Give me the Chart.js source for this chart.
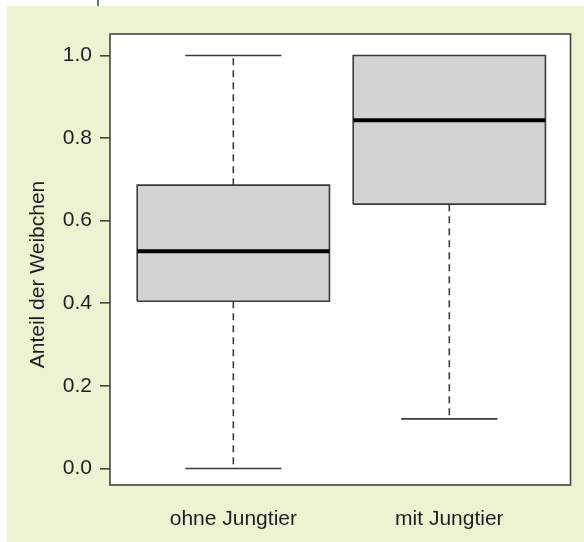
<!DOCTYPE html>
<html>
<head>
<meta charset="utf-8">
<script src="https://cdn.jsdelivr.net/npm/chart.js@4"></script>
<style>
    html, body { margin: 0; padding: 0; background: #fff; }
    body { width: 584px; height: 542px; position: relative; overflow: hidden; }
    #mark { position: absolute; left: 97px; top: 0; width: 2px; height: 6px; background: #3b8a70; }
    #wrap { position: absolute; left: 7px; top: 6px; width: 577px; height: 536px; background: #edf2d3; }
</style>
</head>
<body>
<div id="mark"></div>
<div id="wrap"><canvas id="boxChart" width="577" height="536"></canvas></div>
<script>
const groups = ['ohne Jungtier', 'mit Jungtier'];
const lowerWhisker = [0.0, 0.12];
const q1 = [0.405, 0.64];
const median = [0.526, 0.843];
const q3 = [0.686, 1.0];
const upperWhisker = [1.0, 1.0];
const yTicks = [0.0, 0.2, 0.4, 0.6, 0.8, 1.0];
const yTitle = 'Anteil der Weibchen';

document.addEventListener('DOMContentLoaded', function() {
    'use strict';

    const boxHalf = 0.445;
    const capHalf = 0.2225;
    const lineColor = '#3a3a3a';
    const textColor = '#1f1f1f';
    const fontFamily = "'Liberation Sans', Arial, sans-serif";
    const font = { family: fontFamily, size: 21 };

    function line(points, extra) {
        return Object.assign({
            type: 'scatter',
            data: points,
            showLine: true,
            pointRadius: 0,
            borderColor: lineColor,
            borderWidth: 1.6,
            fill: false
        }, extra);
    }

    const datasets = [];
    groups.forEach(function(name, i) {
        const c = i + 1;
        // box
        datasets.push(line([
            { x: c - boxHalf, y: q1[i] }, { x: c - boxHalf, y: q3[i] },
            { x: c + boxHalf, y: q3[i] }, { x: c + boxHalf, y: q1[i] },
            { x: c - boxHalf, y: q1[i] }
        ], { fill: 'shape', backgroundColor: '#d3d3d3', borderJoinStyle: 'miter', order: 2 }));
        // whiskers
        if (upperWhisker[i] > q3[i]) {
            datasets.push(line([{ x: c, y: q3[i] }, { x: c, y: upperWhisker[i] }], { borderDash: [7, 5], order: 3 }));
            datasets.push(line([{ x: c - capHalf, y: upperWhisker[i] }, { x: c + capHalf, y: upperWhisker[i] }], { order: 3 }));
        }
        if (lowerWhisker[i] < q1[i]) {
            datasets.push(line([{ x: c, y: q1[i] }, { x: c, y: lowerWhisker[i] }], { borderDash: [7, 5], order: 3 }));
            datasets.push(line([{ x: c - capHalf, y: lowerWhisker[i] }, { x: c + capHalf, y: lowerWhisker[i] }], { order: 3 }));
        }
        // median
        datasets.push(line([{ x: c - boxHalf, y: median[i] }, { x: c + boxHalf, y: median[i] }],
            { borderColor: '#000', borderWidth: 4, order: 0 }));
    });

    // white plot panel, closed frame and the y title (sits a bit below the panel centre)
    const frame = {
        id: 'frame',
        beforeDraw(chart) {
            const a = chart.chartArea;
            chart.ctx.save();
            chart.ctx.fillStyle = '#fff';
            chart.ctx.fillRect(a.left, a.top, a.right - a.left, a.bottom - a.top);
            chart.ctx.restore();
        },
        afterDatasetsDraw(chart) {
            const a = chart.chartArea;
            const ctx = chart.ctx;
            ctx.save();
            ctx.strokeStyle = '#444';
            ctx.lineWidth = 1.6;
            ctx.strokeRect(a.left, a.top, a.right - a.left, a.bottom - a.top);
            ctx.translate(31, (a.top + a.bottom) / 2 + 15);
            ctx.rotate(-Math.PI / 2);
            ctx.fillStyle = textColor;
            ctx.font = '21px ' + fontFamily;
            ctx.textAlign = 'center';
            ctx.textBaseline = 'middle';
            ctx.fillText(yTitle, 0, 0);
            ctx.restore();
        }
    };

    new Chart(document.getElementById('boxChart'), {
        type: 'scatter',
        data: { datasets: datasets },
        plugins: [frame],
        options: {
            responsive: false,
            animation: false,
            layout: { padding: { left: 0, top: 28, right: 13.5, bottom: 0 } },
            plugins: { legend: { display: false }, tooltip: { enabled: false } },
            scales: {
                x: {
                    type: 'linear',
                    min: 0.429,
                    max: 2.561,
                    afterBuildTicks: s => { s.ticks = groups.map((g, i) => ({ value: i + 1 })); },
                    afterFit: s => { s.height = 57; },
                    grid: { display: false },
                    border: { display: false },
                    ticks: {
                        autoSkip: false,
                        maxRotation: 0,
                        padding: 14,
                        color: textColor,
                        font: font,
                        callback: v => groups[Math.round(v) - 1]
                    }
                },
                y: {
                    min: -0.04,
                    max: 1.052,
                    afterBuildTicks: s => { s.ticks = yTicks.map(v => ({ value: v })); },
                    afterFit: s => { s.width = 103; },
                    grid: { drawOnChartArea: false, drawTicks: true, tickLength: 10, color: '#444', lineWidth: 1.6 },
                    border: { display: false },
                    ticks: {
                        padding: 8,
                        color: textColor,
                        font: font,
                        callback: v => v.toFixed(1)
                    }
                }
            }
        }
    });
});
</script>
</body>
</html>
